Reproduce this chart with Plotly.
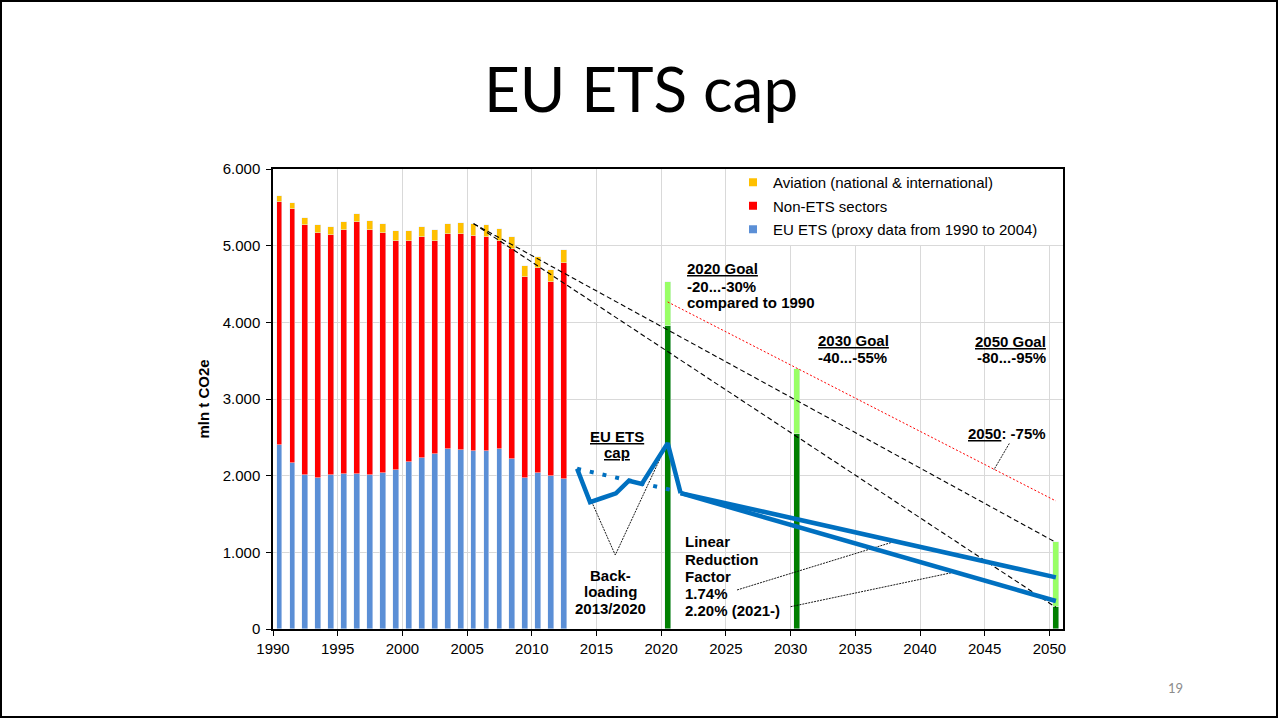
import plotly.graph_objects as go

# ---- historical emissions (mln t CO2e), stacked per year ----
years = list(range(1990, 2013))
eu_ets = [2400, 2161, 2009, 1974, 2009, 2026, 2022, 2009, 2035, 2070, 2178, 2230,
          2287, 2348, 2335, 2322, 2326, 2343, 2217, 1974, 2035, 1996, 1961]
non_ets_top = [5565, 5474, 5265, 5170, 5143, 5200, 5304, 5200, 5161, 5057, 5057, 5109,
               5065, 5148, 5157, 5126, 5109, 5057, 4952, 4587, 4709, 4530, 4778]
total_top = [5652, 5557, 5361, 5265, 5243, 5304, 5413, 5317, 5287, 5187, 5196, 5239,
             5200, 5287, 5300, 5287, 5270, 5222, 5117, 4739, 4852, 4687, 4939]
non_ets = [t - e for t, e in zip(non_ets_top, eu_ets)]
aviation = [t - n for t, n in zip(total_top, non_ets_top)]

# ---- reduction goals (range low / high) ----
goal_years = [2020, 2030, 2050]
goal_low = [3956, 2543, 283]
goal_high = [4522, 3391, 1130]

# ---- EU ETS cap path ----
cap_x = [2013.5, 2014.5, 2015.5, 2016.5, 2017.5, 2018.5, 2020.5, 2021.5]
cap_y = [2090, 1655, 1712, 1770, 1934, 1891, 2425, 1772]
cap_174_x = [2021.5, 2050.5]
cap_174_y = [1772, 674]
cap_220_x = [2021.5, 2050.5]
cap_220_y = [1772, 365]
cap_orig_x = [2013.5, 2021.0]
cap_orig_y = [2090, 1805]

# ---- trend lines ----
trend_a_x = [2005.5, 2050.5]
trend_a_y = [5287, 1130]
trend_b_x = [2005.5, 2050.5]
trend_b_y = [5287, 283]
trend_75_x = [2020.5, 2050.5]
trend_75_y = [4266, 1670]

# ---- leader lines for the callouts ----
backload_x = [2013.5, 2016.45, 2020.4]
backload_y = [2090, 965, 2400]
lrf1_x = [2025.86, 2038.2]
lrf1_y = [509, 1150]
lrf2_x = [2030.0, 2042.6]
lrf2_y = [291, 740]
pct75_x = [2046.9, 2045.7]
pct75_y = [2420, 2074]

y_ticks = [0, 1000, 2000, 3000, 4000, 5000, 6000]
y_tick_text = ["0", "1.000", "2.000", "3.000", "4.000", "5.000", "6.000"]

C_ETS = "#5B8FD6"
C_NON = "#FF0000"
C_AV = "#FFC000"
C_DARK = "#008000"
C_LIGHT = "#99FF66"
C_CAP = "#0070C0"

BAR_W = 0.45
bar_x = [y + 0.5 for y in years]
goal_x = [y + 0.5 for y in goal_years]

fig = go.Figure()

fig.add_bar(x=bar_x, y=eu_ets, width=BAR_W, marker_color=C_ETS, showlegend=False)
fig.add_bar(x=bar_x, y=non_ets, width=BAR_W, marker_color=C_NON, showlegend=False)
fig.add_bar(x=bar_x, y=aviation, width=BAR_W, marker_color=C_AV, showlegend=False)

fig.add_bar(x=goal_x, y=goal_low, width=BAR_W, marker_color=C_DARK, showlegend=False)
fig.add_bar(x=goal_x, y=[h - l for h, l in zip(goal_high, goal_low)], width=BAR_W,
            marker_color=C_LIGHT, showlegend=False)

def line(x, y, color, width, dash="solid"):
    fig.add_scatter(x=x, y=y, mode="lines", showlegend=False, hoverinfo="skip",
                    line=dict(color=color, width=width, dash=dash))

line(trend_a_x, trend_a_y, "black", 1.1, "5px,3px")
line(trend_b_x, trend_b_y, "black", 1.1, "5px,3px")
line(trend_75_x, trend_75_y, "#FF0000", 1, "2px,2px")

line(backload_x, backload_y, "black", 0.9, "2px,1px")
line(lrf1_x, lrf1_y, "black", 0.9, "2px,1px")
line(lrf2_x, lrf2_y, "black", 0.9, "2px,1px")
line(pct75_x, pct75_y, "black", 0.9, "2px,1px")

line(cap_orig_x, cap_orig_y, C_CAP, 4, "4px,9px")
line(cap_x, cap_y, C_CAP, 4.5)
line(cap_174_x, cap_174_y, C_CAP, 4.5)
line(cap_220_x, cap_220_y, C_CAP, 4.5)

# legend entries
for name, col, grp in [("Aviation (national & international)", C_AV, "a"),
                       ("Non-ETS sectors", C_NON, "b"),
                       ("EU ETS (proxy data from 1990 to 2004)", C_ETS, "c")]:
    fig.add_scatter(x=[None], y=[None], mode="markers", name=name, legendgroup=grp,
                    marker=dict(symbol="square", size=8, color=col))

FONT = "Liberation Sans, Arial, sans-serif"
ann = []

def text(x, y, s, anchor="left", size=15, bold=True):
    ann.append(dict(x=x, y=y, xref="x", yref="y", text=(f"<b>{s}</b>" if bold else s),
                    showarrow=False, xanchor=anchor, yanchor="middle",
                    font=dict(family=FONT, size=size, color="black")))

text(2021.87, 4708, "<u>2020 Goal</u>")
text(2021.87, 4465, "-20...-30%")
text(2021.87, 4256, "compared to 1990")
text(2031.96, 3760, "<u>2030 Goal</u>")
text(2031.96, 3544, "-40...-55%")
text(2049.86, 3756, "<u>2050 Goal</u>", anchor="right")
text(2049.86, 3541, "-80...-95%", anchor="right")
text(2049.9, 2552, "<u>2050</u>: -75%", anchor="right")
text(2016.6, 2517, "<u>EU ETS</u>", anchor="center")
text(2016.6, 2302, "<u>cap</u>", anchor="center")
text(2016.07, 704, "Back-", anchor="center")
text(2016.07, 483, "loading", anchor="center")
text(2016.07, 261, "2013/2020", anchor="center")
text(2021.71, 1139, "Linear")
text(2021.71, 913, "Reduction")
text(2021.71, 691, "Factor")
text(2021.71, 457, "1.74%")
text(2021.71, 239, "2.20% (2021-)")

# y axis title
ann.append(dict(x=-0.088, y=0.5, xref="paper", yref="paper", text="<b>mln t CO2e</b>",
                textangle=-90, showarrow=False, xanchor="center", yanchor="middle",
                font=dict(family=FONT, size=15, color="black")))
# slide title
ann.append(dict(x=0.4657, y=1.177, xref="paper", yref="paper", text="EU ETS cap",
                showarrow=False, xanchor="center", yanchor="middle",
                font=dict(family="Lato, sans-serif", size=62, color="black")))
# page number
ann.append(dict(x=1.143, y=-0.128, xref="paper", yref="paper", text="19",
                showarrow=False, xanchor="center", yanchor="middle",
                font=dict(family="Lato, sans-serif", size=13, color="#8c8c8c")))

axis_common = dict(showline=True, linecolor="black", linewidth=1.5, mirror=True,
                   gridcolor="#d9d9d9", gridwidth=1, ticks="outside", ticklen=5,
                   tickcolor="black", zeroline=False,
                   tickfont=dict(family=FONT, size=15, color="black"))

fig.update_layout(
    width=1279, height=719,
    margin=dict(l=273, r=216, t=169, b=90),
    paper_bgcolor="white", plot_bgcolor="white",
    barmode="stack", bargap=0,
    annotations=ann,
    showlegend=True,
    legend=dict(x=0.5823, y=1.0065, xanchor="left", yanchor="top",
                bgcolor="rgba(0,0,0,0)", borderwidth=0, tracegroupgap=1,
                font=dict(family=FONT, size=15, color="black")),
    xaxis=dict(range=[1990, 2051.05], tick0=1990, dtick=5, **axis_common),
    yaxis=dict(range=[0, 6000], tickvals=y_ticks, ticktext=y_tick_text,
               ticklabelstandoff=3, **axis_common),
    shapes=[
        # white panel behind the legend, hiding the grid there
        dict(type="rect", xref="x", yref="y", x0=2026.1, x1=2051.05, y0=5010, y1=6000,
             layer="between", line=dict(width=0), fillcolor="white"),
        # slide frame
        dict(type="rect", xref="paper", yref="paper",
             x0=(1 - 273) / 790, x1=(1277 - 273) / 790,
             y0=(629 - 717) / 460, y1=(629 - 1) / 460,
             line=dict(color="black", width=2), fillcolor="rgba(0,0,0,0)"),
    ],
)

fig.write_html("out.html")
